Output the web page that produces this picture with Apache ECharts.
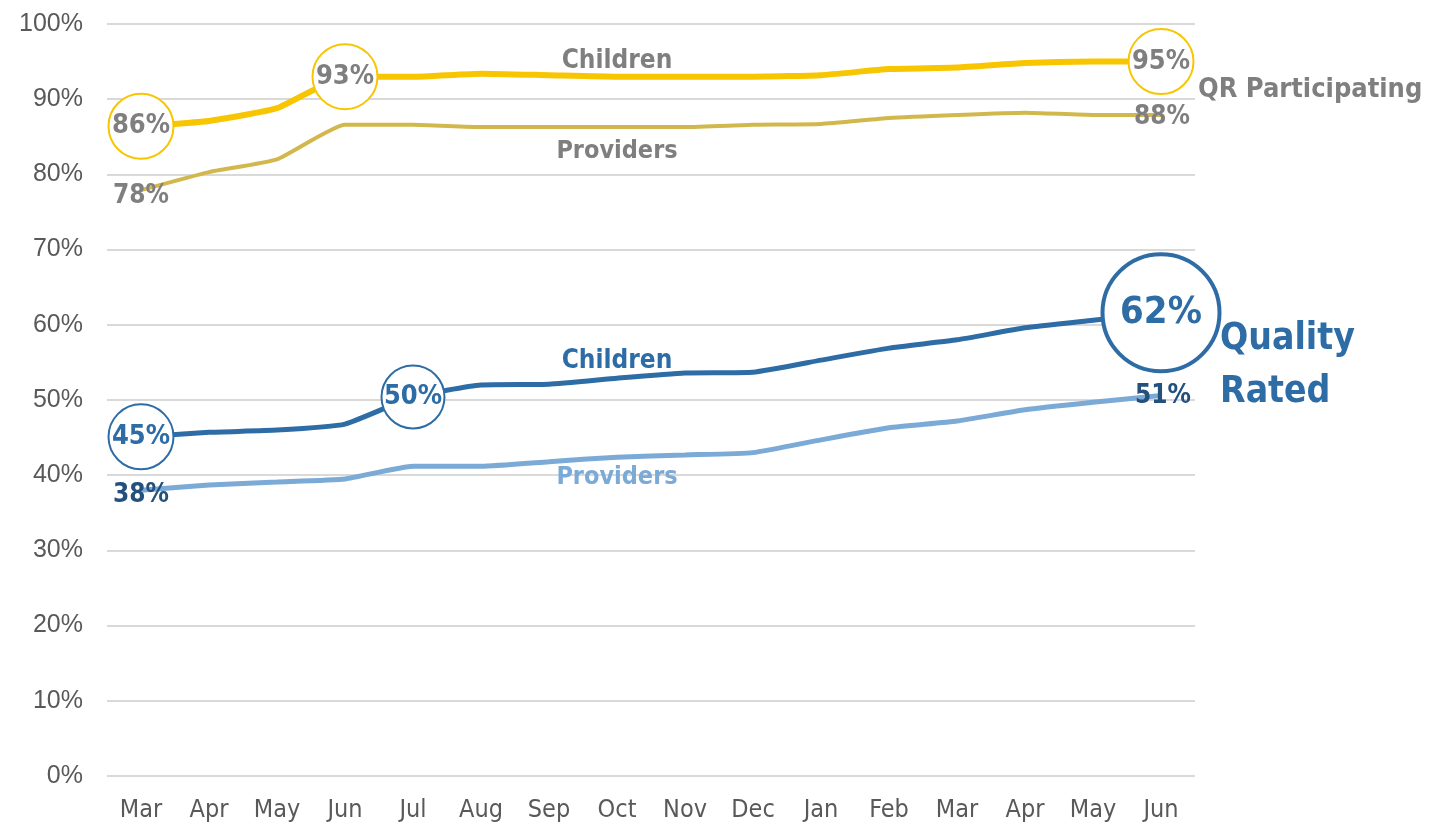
<!DOCTYPE html>
<html>
<head>
<meta charset="utf-8">
<script src="https://cdn.jsdelivr.net/npm/echarts@6/dist/echarts.min.js"></script>
<style>
html,body{margin:0;padding:0;background:#fff;}
#chart{width:1435px;height:825px;}
</style>
</head>
<body>
<div id="chart"></div>
<script>
// ---- data ----
var months = ['Mar','Apr','May','Jun','Jul','Aug','Sep','Oct','Nov','Dec','Jan','Feb','Mar','Apr','May','Jun'];
var qrChildren  = [86.4, 87.1, 88.8, 93.0, 93.0, 93.4, 93.2, 93.0, 93.0, 93.0, 93.2, 94.0, 94.2, 94.8, 95.0, 95.0];
var qrProviders = [77.9, 80.3, 82.0, 86.6, 86.6, 86.3, 86.3, 86.3, 86.3, 86.6, 86.7, 87.5, 87.9, 88.2, 87.9, 87.9];
var ratedChildren  = [45.1, 45.7, 46.0, 46.8, 50.4, 52.0, 52.1, 52.9, 53.6, 53.7, 55.3, 56.9, 58.0, 59.6, 60.6, 61.6];
var ratedProviders = [38.0, 38.7, 39.1, 39.5, 41.2, 41.2, 41.8, 42.4, 42.7, 43.0, 44.7, 46.3, 47.2, 48.7, 49.7, 50.6];
var yTicks = [0, 10, 20, 30, 40, 50, 60, 70, 80, 90, 100];

// ---- styles ----
var NARROW = '"DejaVu Sans Condensed", "Liberation Sans Narrow", sans-serif';
var WIDE = '"Liberation Sans", Arial, sans-serif';
var YELLOW = '#F7C600', GOLD = '#D2B84C', DBLUE = '#2E6CA6', LBLUE = '#7BAAD6', GRAY = '#7F7F7F', NAVY = '#24507C';

function circle(idx, vals, size, border, bw, txtColor, fs) {
  return {
    coord: [idx, vals[idx]], symbol: 'circle', symbolSize: size,
    itemStyle: {color: '#fff', borderColor: border, borderWidth: bw},
    label: {show: true, position: 'inside', formatter: Math.round(vals[idx]) + '%',
      color: txtColor, fontFamily: NARROW, fontWeight: 'bold', fontSize: fs}
  };
}
function text(idx, vals, str, color, fs, offset, align, lh) {
  return {
    coord: [idx, vals[idx]], symbol: 'circle', symbolSize: 0,
    itemStyle: {color: 'rgba(0,0,0,0)'},
    label: {show: true, position: 'inside', formatter: str, color: color,
      fontFamily: NARROW, fontWeight: 'bold', fontSize: fs, offset: offset,
      align: align || 'center', lineHeight: lh || fs}
  };
}
function pct(v) { return Math.round(v) + '%'; }

var chart = echarts.init(document.getElementById('chart'));
chart.setOption({
  animation: false,
  backgroundColor: '#fff',
  grid: {left: 107, right: 240, top: 24, bottom: 49, containLabel: false},
  xAxis: {
    type: 'category', data: months, boundaryGap: true,
    axisLine: {show: false}, axisTick: {show: false},
    axisLabel: {color: '#595959', fontFamily: NARROW, fontSize: 25, margin: 22, interval: 0}
  },
  yAxis: {
    type: 'value', min: 0, max: 100, interval: 10,
    axisLine: {show: false}, axisTick: {show: false},
    axisLabel: {color: '#595959', fontFamily: WIDE, fontSize: 25, margin: 24,
      formatter: function (v) { return yTicks.indexOf(v) >= 0 ? v + '%' : ''; }},
    splitLine: {lineStyle: {color: '#D9D9D9', width: 2}}
  },
  series: [
    {
      name: 'QR Providers', type: 'line', data: qrProviders, smooth: 0.15,
      symbol: 'none', lineStyle: {color: GOLD, width: 4}, z: 2,
      markPoint: {z: 5, data: [
        text(0, qrProviders, pct(qrProviders[0]), GRAY, 26, [0, 6]),
        text(15, qrProviders, pct(qrProviders[15]), GRAY, 26, [1, 2]),
        text(7, qrProviders, 'Providers', GRAY, 25, [0, 24])
      ]}
    },
    {
      name: 'QR Children', type: 'line', data: qrChildren, smooth: 0.15,
      symbol: 'none', lineStyle: {color: YELLOW, width: 6}, z: 3,
      markPoint: {z: 6, data: [
        circle(0, qrChildren, 65, YELLOW, 2, GRAY, 27),
        circle(3, qrChildren, 65, YELLOW, 2, GRAY, 27),
        circle(15, qrChildren, 65, YELLOW, 2, GRAY, 27),
        text(7, qrChildren, 'Children', GRAY, 26, [0, -15]),
        text(15, qrChildren, 'QR Participating', GRAY, 27, [37, 28], 'left')
      ]}
    },
    {
      name: 'QR-Rated Providers', type: 'line', data: ratedProviders, smooth: 0.15,
      symbol: 'none', lineStyle: {color: LBLUE, width: 5}, z: 2,
      markPoint: {z: 5, data: [
        text(0, ratedProviders, pct(ratedProviders[0]), NAVY, 26, [0, 5]),
        text(15, ratedProviders, pct(ratedProviders[15]), NAVY, 26, [2, 1]),
        text(7, ratedProviders, 'Providers', LBLUE, 25, [0, 20])
      ]}
    },
    {
      name: 'QR-Rated Children', type: 'line', data: ratedChildren, smooth: 0.15,
      symbol: 'none', lineStyle: {color: DBLUE, width: 5}, z: 3,
      markPoint: {z: 6, data: [
        circle(0, ratedChildren, 65, DBLUE, 2, DBLUE, 27),
        circle(4, ratedChildren, 63, DBLUE, 2, DBLUE, 27),
        circle(15, ratedChildren, 117, DBLUE, 4, DBLUE, 38),
        text(7, ratedChildren, 'Children', DBLUE, 26, [0, -17]),
        text(15, ratedChildren, 'Quality\nRated', DBLUE, 37, [59, 53], 'left', 53)
      ]}
    }
  ]
});
</script>
</body>
</html>
